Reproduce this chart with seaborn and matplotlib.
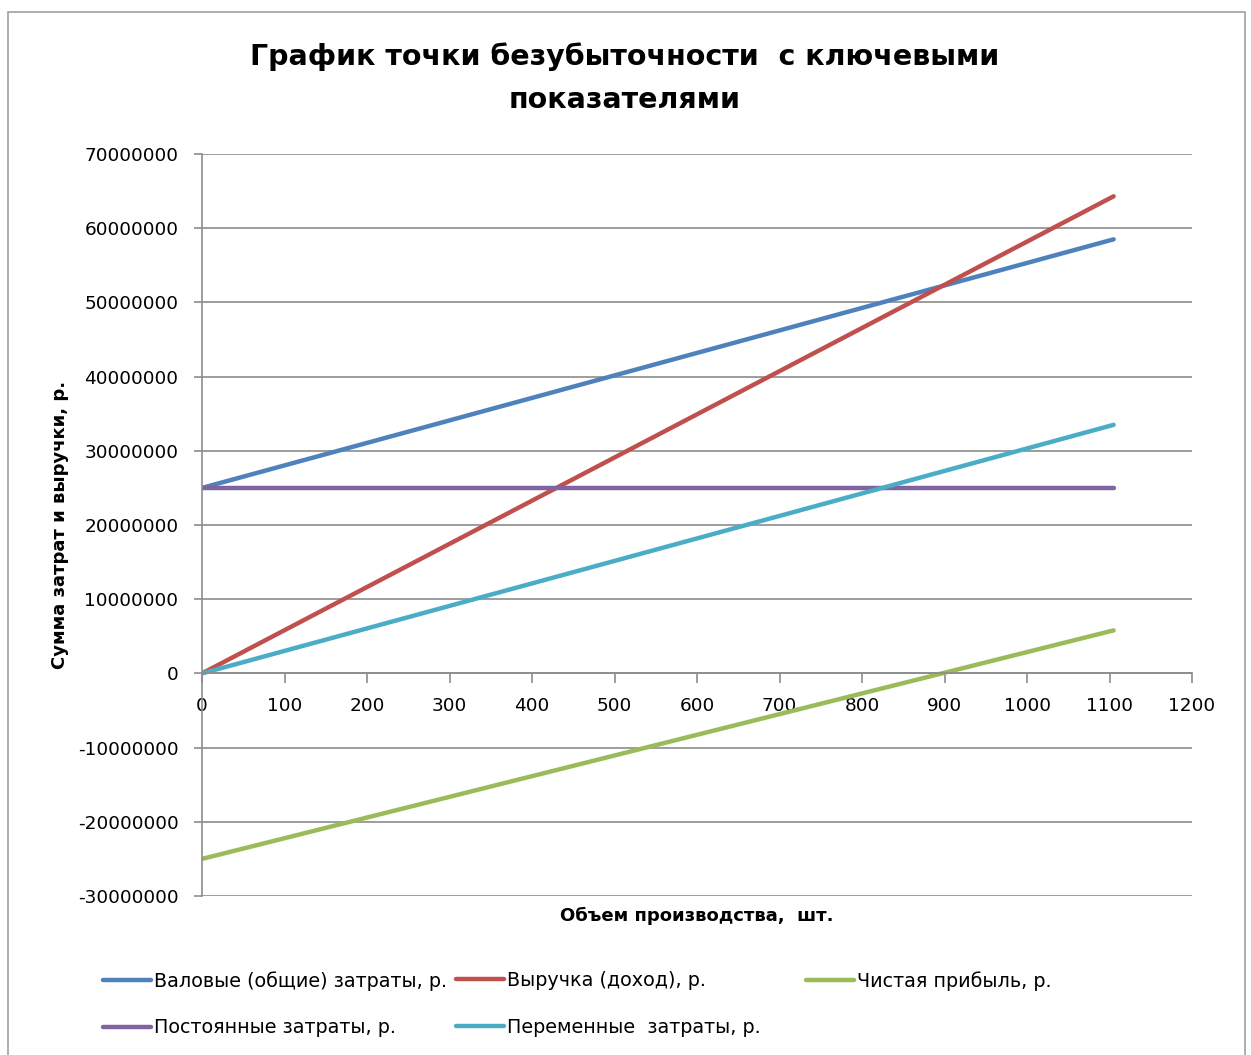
import matplotlib
matplotlib.use("Agg")
import matplotlib.pyplot as plt
import seaborn as sns
import pandas as pd
from matplotlib.ticker import FuncFormatter, MultipleLocator
from matplotlib.patches import Rectangle
from matplotlib.lines import Line2D

# ---- data ----
volume = [0, 1105]
total_costs = [25000000, 58500000]
revenue = [0, 64300000]
net_profit = [-25000000, 5800000]
fixed_costs = [25000000, 25000000]
variable_costs = [0, 33500000]

series_names = [
    "Валовые (общие) затраты, р.",
    "Выручка (доход), р.",
    "Чистая прибыль, р.",
    "Постоянные затраты, р.",
    "Переменные  затраты, р.",
]
series_values = [total_costs, revenue, net_profit, fixed_costs, variable_costs]
colors = ["#4F81BD", "#C0504D", "#9BBB59", "#8064A2", "#4BACC6"]

title = "График точки безубыточности  с ключевыми\nпоказателями"
x_label = "Объем производства,  шт."
y_label = "Сумма затрат и выручки, р."

rows = []
for name, vals in zip(series_names, series_values):
    for x, y in zip(volume, vals):
        rows.append({"x": x, "y": y, "series": name})
df = pd.DataFrame(rows)

sns.set_style("white")
plt.rcParams["font.family"] = ["DejaVu Sans"]
plt.rcParams["text.color"] = "black"
plt.rcParams["xtick.labelcolor"] = "black"
plt.rcParams["ytick.labelcolor"] = "black"

fig = plt.figure(figsize=(12.51, 10.55), dpi=100)
ax = fig.add_axes([202 / 1251, 1 - 896 / 1055, (1192 - 202) / 1251, (896 - 154) / 1055])

# chart area border
fig.patches.append(Rectangle((8 / 1251, -0.01), (1245 - 8) / 1251, 1 - 12 / 1055 + 0.01,
                             transform=fig.transFigure, fill=False,
                             edgecolor="#A0A0A0", linewidth=1.2))

sns.lineplot(data=df, x="x", y="y", hue="series", hue_order=series_names,
             palette=colors, linewidth=3.2, ax=ax, legend=False,
             solid_capstyle="round")

ax.set_xlim(0, 1200)
ax.set_ylim(-30000000, 70000000)
ax.xaxis.set_major_locator(MultipleLocator(100))
ax.yaxis.set_major_locator(MultipleLocator(10000000))
ax.yaxis.set_major_formatter(FuncFormatter(lambda v, p: f"{int(round(v))}"))
ax.grid(axis="y", color="#8C8C8C", linewidth=1.2)
ax.grid(axis="x", visible=False)
ax.set_axisbelow(True)

for s in ["top", "right"]:
    ax.spines[s].set_visible(False)
ax.spines["bottom"].set_position(("data", 0))
ax.spines["bottom"].set_color("#8C8C8C")
ax.spines["left"].set_color("#8C8C8C")
ax.spines["bottom"].set_linewidth(1.2)
ax.spines["left"].set_linewidth(1.2)
ax.tick_params(axis="y", direction="out", length=6, color="#8C8C8C", width=1.2,
               labelsize=13.3, pad=11, left=True, labelcolor="black")
ax.tick_params(axis="x", direction="out", length=7, color="#8C8C8C", width=1.2,
               labelsize=13.3, pad=10, bottom=True, labelcolor="black")

ax.set_xlabel("")
ax.set_ylabel("")
fig.text(697 / 1251, 1 - 916 / 1055, x_label, ha="center", va="center",
         fontsize=13, fontweight="bold", color="black")
fig.text(60 / 1251, 1 - 525 / 1055, y_label, ha="center", va="center",
         rotation=90, fontsize=13, fontweight="bold", color="black")
fig.text(625 / 1251, 1 - 78 / 1055, title, ha="center", va="center",
         fontsize=20.5, fontweight="bold", linespacing=1.7, color="black")

# legend in three fixed columns
handles = [Line2D([], [], color=c, linewidth=3.2) for c in colors]
col_groups = [([0, 3], 103), ([1, 4], 456), ([2], 806)]
for idx, xpix in col_groups:
    leg = fig.legend([handles[i] for i in idx], [series_names[i] for i in idx],
                     loc="upper left", bbox_to_anchor=(xpix / 1251, 1 - 971 / 1055),
                     frameon=False, fontsize=13.8, handlelength=2.5, handletextpad=0.15,
                     labelspacing=1.45, borderaxespad=0, borderpad=0,
                     labelcolor="black")

fig.savefig("out.png", dpi=100)
